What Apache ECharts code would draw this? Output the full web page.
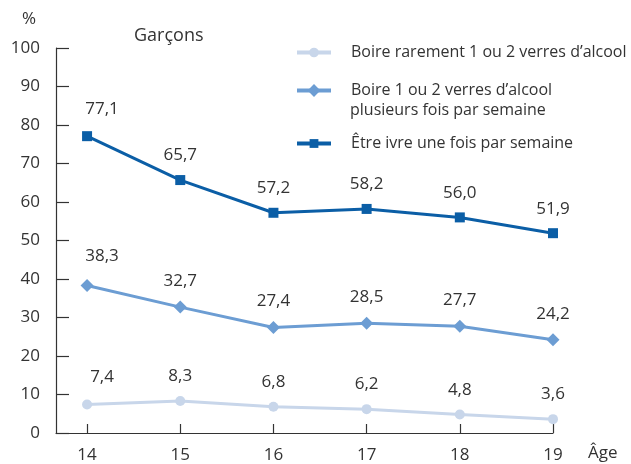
<!DOCTYPE html>
<html>
<head>
<meta charset="utf-8">
<title>Garçons</title>
<script src="https://cdn.jsdelivr.net/npm/echarts@6/dist/echarts.min.js"></script>
<style>
  html, body { margin: 0; padding: 0; background: #fff; }
  #chart { width: 631px; height: 464px; }
</style>
</head>
<body>
<div id="chart"></div>
<script>
// données
const ages = [14, 15, 16, 17, 18, 19];
const rarement = [7.4, 8.3, 6.8, 6.2, 4.8, 3.6];
const plusieursFois = [38.3, 32.7, 27.4, 28.5, 27.7, 24.2];
const ivre = [77.1, 65.7, 57.2, 58.2, 56.0, 51.9];
const yTicks = [0, 10, 20, 30, 40, 50, 60, 70, 80, 90, 100];

const names = [
  'Boire rarement 1 ou 2 verres d\u2019alcool',
  'Boire 1 ou 2 verres d\u2019alcool\nplusieurs fois par semaine',
  '\u00catre ivre une fois par semaine'
];
const colors = ['#c8d6ea', '#6c9dd3', '#0b5ea6'];
const font = '"Open Sans", "Noto Sans", sans-serif';
const textColor = '#333';

const chart = echarts.init(document.getElementById('chart'));

function points(vals) {
  return vals.map((v, i) => ({
    value: [ages[i], v],
    // premier point décalé pour ne pas toucher l'axe
    label: i === 0 ? { offset: [15, -3] } : undefined
  }));
}

function serie(name, vals, color, symbol, size) {
  return {
    name: name,
    type: 'line',
    data: points(vals),
    symbol: symbol,
    symbolSize: size,
    lineStyle: { color: color, width: 3 },
    itemStyle: { color: color },
    label: {
      show: true,
      position: 'top',
      distance: 11,
      fontFamily: font,
      fontSize: 17,
      color: textColor,
      formatter: p => p.value[1].toFixed(1).replace('.', ',')
    },
    emphasis: { disabled: true }
  };
}

// une légende par entrée ; seule la première ligne du nom est écrite par la légende
function legendAt(name, top, symbolSize) {
  return {
    data: [{ name: name, itemStyle: { borderWidth: 0 } }],
    left: 295,
    top: top,
    padding: 0,
    orient: 'vertical',
    itemWidth: 34,
    itemHeight: symbolSize,
    lineStyle: { width: 4 },
    formatter: n => n.split('\n')[0],
    textStyle: { fontFamily: font, fontSize: 16, color: textColor, lineHeight: 21, padding: [0, 0, 0, 15] },
    selectedMode: false
  };
}

const option = {
  animation: false,
  title: {
    text: 'Garçons',
    left: 134,
    top: 27,
    padding: 0,
    textStyle: { fontFamily: font, fontSize: 18, fontWeight: 'normal', color: textColor }
  },
  legend: [
    legendAt(names[0], 42, 12),
    legendAt(names[1], 80, 16),
    legendAt(names[2], 133, 11)
  ],
  grid: { left: 56, right: 78, top: 48, bottom: 30, containLabel: false },
  xAxis: {
    type: 'value',
    min: 14 - 1 / 3,
    max: 19,
    axisLine: { show: true, lineStyle: { color: textColor, width: 1.2 } },
    axisTick: { show: true, inside: true, length: 9, customValues: ages, lineStyle: { color: textColor, width: 1.2 } },
    axisLabel: { customValues: ages, margin: 14, fontFamily: font, fontSize: 17, color: textColor },
    splitLine: { show: false }
  },
  yAxis: {
    type: 'value',
    min: 0,
    max: 100,
    interval: 10,
    axisLine: { show: true, lineStyle: { color: textColor, width: 1.2 } },
    axisTick: { show: true, inside: true, length: 13, lineStyle: { color: textColor, width: 1.2 } },
    axisLabel: { margin: 16, fontFamily: font, fontSize: 17, color: textColor, customValues: yTicks },
    splitLine: { show: false }
  },
  graphic: [
    { type: 'text', left: 22, top: 11, style: { text: '%', font: '17px ' + font, fill: textColor } },
    { type: 'text', left: 588, top: 445, style: { text: '\u00c2ge', font: '17px ' + font, fill: textColor } },
    // seconde ligne de la deuxième entrée de légende
    { type: 'text', left: 350, top: 102, style: { text: names[1].split('\n')[1], font: '16px ' + font, fill: textColor } }
  ],
  series: [
    serie(names[0], rarement, colors[0], 'circle', 10),
    serie(names[1], plusieursFois, colors[1], 'diamond', 13),
    serie(names[2], ivre, colors[2], 'rect', 10)
  ]
};

chart.setOption(option);

window.addEventListener('resize', () => {
  chart.resize();
});
</script>
</body>
</html>
